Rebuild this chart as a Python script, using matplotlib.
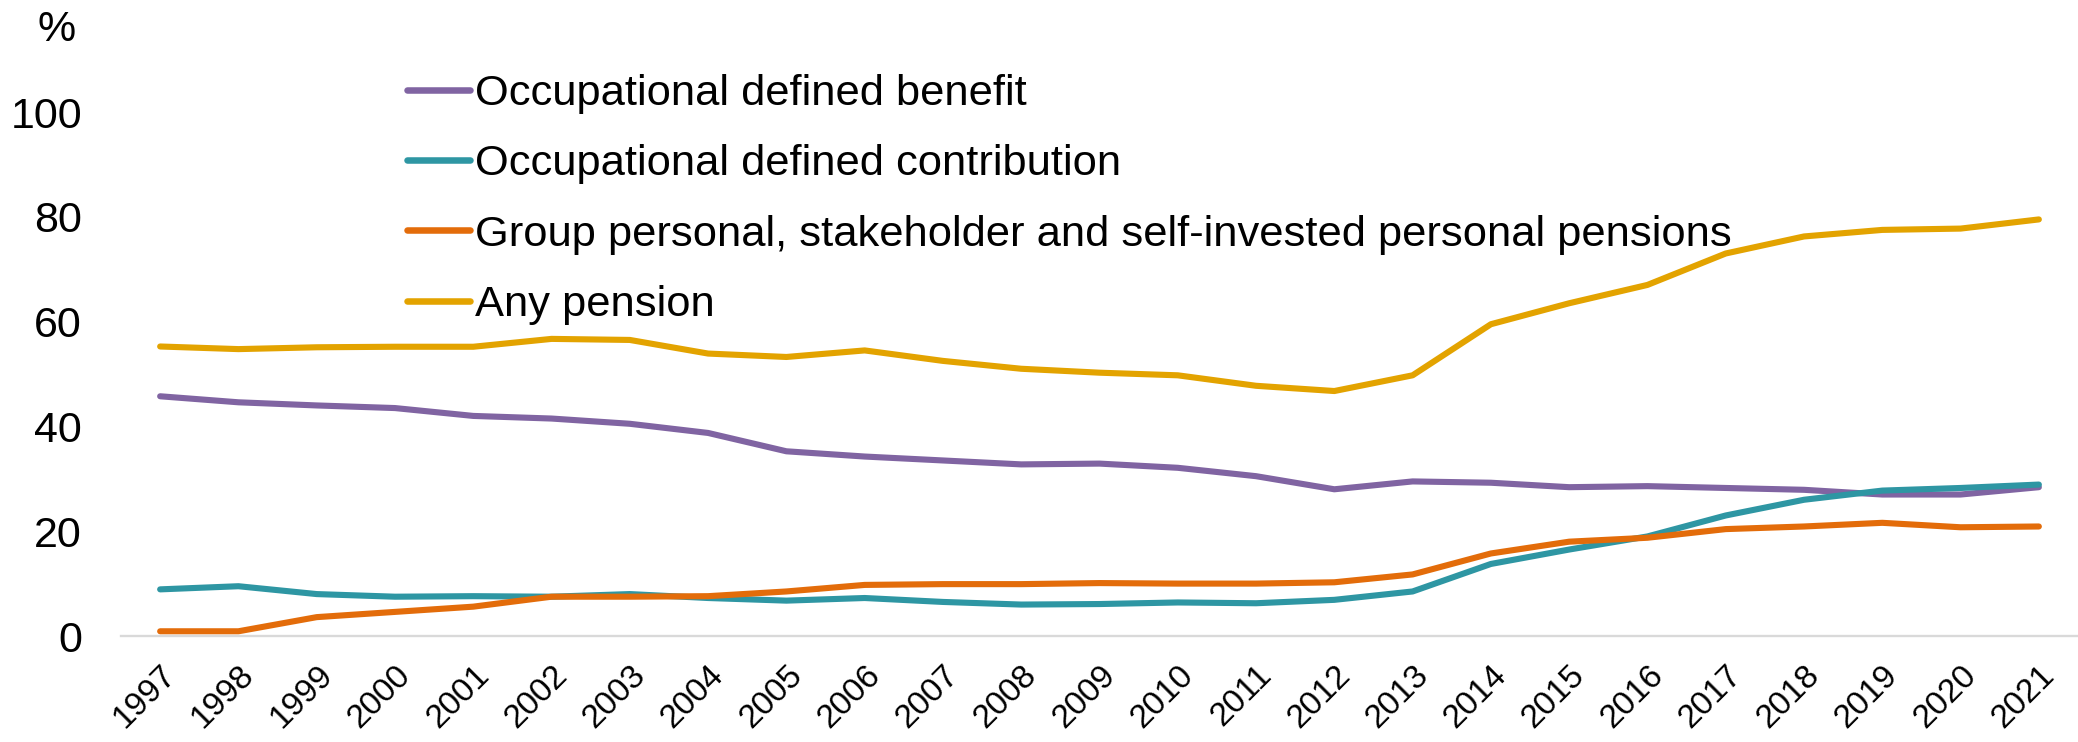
import matplotlib
matplotlib.use("Agg")
import matplotlib.pyplot as plt

plt.rcParams['font.family'] = ['Liberation Sans', 'DejaVu Sans']

years = [str(y) for y in range(1997, 2022)]

occ_db = [45.75, 44.6, 44.0, 43.5, 42.0, 41.5, 40.5, 38.75, 35.25, 34.25, 33.5, 32.75,
          32.9, 32.1, 30.5, 28.0, 29.5, 29.25, 28.4, 28.6, 28.25, 27.9, 27.0, 27.0, 28.4]
occ_dc = [8.9, 9.5, 8.0, 7.5, 7.6, 7.5, 8.0, 7.25, 6.75, 7.25, 6.5, 6.0,
          6.1, 6.4, 6.25, 6.9, 8.5, 13.75, 16.5, 19.0, 23.0, 26.0, 27.75, 28.25, 28.9]
group_personal = [0.9, 0.9, 3.6, 4.6, 5.6, 7.5, 7.5, 7.6, 8.5, 9.75, 9.9, 9.9,
                  10.1, 10.0, 10.0, 10.25, 11.75, 15.75, 18.0, 18.75, 20.4, 20.9, 21.6, 20.75, 20.9]
any_pension = [55.25, 54.75, 55.1, 55.2, 55.2, 56.7, 56.5, 53.9, 53.25, 54.5, 52.5, 51.0,
               50.25, 49.75, 47.75, 46.75, 49.75, 59.5, 63.5, 67.0, 73.0, 76.25, 77.5, 77.75, 79.5]

series = [
    ("Occupational defined benefit", occ_db, "#8064A2"),
    ("Occupational defined contribution", occ_dc, "#2E96A3"),
    ("Group personal, stakeholder and self-invested personal pensions", group_personal, "#E36C0A"),
    ("Any pension", any_pension, "#E3A300"),
]

lw = 4.4

fig = plt.figure(figsize=(20.78, 7.42), dpi=100)
ax = fig.add_axes([121 / 2078, 1 - 636 / 742, 1 - 121 / 2078, (636 - 112) / 742])

x = list(range(len(years)))
for label, vals, color in series:
    ax.plot(x, vals, color=color, lw=lw, label=label, solid_capstyle='round', clip_on=False)

ax.set_ylim(0, 100)
ax.set_xlim(-0.5, 24.5)
ax.set_yticks([0, 20, 40, 60, 80, 100])
ax.set_xticks(x)
ax.set_xticklabels(years, rotation=45, ha='right', rotation_mode='anchor')
ax.tick_params(axis='y', length=0, labelsize=31, pad=28)
ax.tick_params(axis='x', length=0, labelsize=24, pad=17)

for side in ['top', 'right', 'left']:
    ax.spines[side].set_visible(False)
ax.spines['bottom'].set_color('#D9D9D9')
ax.spines['bottom'].set_linewidth(1.7)

fig.text(57 / 2078, 1 - 30 / 742, "%", fontsize=31, ha='center', va='center')

leg = ax.legend(loc='upper left', bbox_to_anchor=(385 / 2078, 1 - 52 / 742),
                bbox_transform=fig.transFigure, frameon=False, fontsize=31.3,
                handlelength=1.45, handletextpad=0.12, labelspacing=0.7, borderpad=0)
for h in leg.get_lines():
    h.set_linewidth(4.7)
    h.set_solid_capstyle('round')

fig.savefig("out.png", dpi=100)
